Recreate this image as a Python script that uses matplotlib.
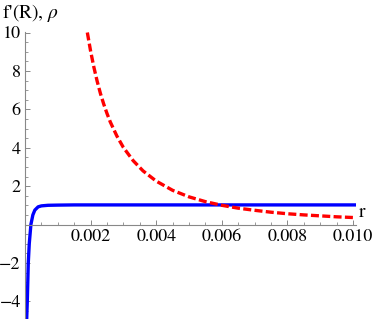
import matplotlib
matplotlib.use("Agg")
import matplotlib.pyplot as plt
from matplotlib.ticker import MultipleLocator, FixedLocator

plt.rcParams['font.family'] = ['STIXGeneral', 'Liberation Serif', 'DejaVu Serif']
plt.rcParams['mathtext.fontset'] = 'stix'

# blue curve f'(R)
r_blue = [0.00005, 0.00007, 0.0001, 0.00013, 0.00018, 0.00024, 0.0003, 0.0004,
          0.0005, 0.0007, 0.001, 0.0015, 0.002, 0.004, 0.006, 0.008, 0.0101]
f_blue = [-5.0, -4.0, -2.0, -1.0, 0.0, 0.5, 0.75, 0.92, 0.97, 1.0, 1.01,
          1.02, 1.02, 1.02, 1.02, 1.02, 1.02]

# red dashed curve rho
r_red = [0.0019, 0.002, 0.0021, 0.0022, 0.0023, 0.0024, 0.0025, 0.0026, 0.0028,
         0.003, 0.0033, 0.0036, 0.004, 0.0045, 0.005, 0.0055, 0.006, 0.0065,
         0.007, 0.0075, 0.008, 0.0085, 0.009, 0.0095, 0.01005]
rho_red = [10.0, 9.03, 8.19, 7.46, 6.82, 6.27, 5.78, 5.34, 4.61, 4.01, 3.32,
           2.79, 2.26, 1.78, 1.44, 1.19, 1.0, 0.85, 0.74, 0.64, 0.56, 0.50,
           0.45, 0.40, 0.36]

x_ticks = [0.002, 0.004, 0.006, 0.008, 0.010]
x_tick_labels = ["0.002", "0.004", "0.006", "0.008", "0.010"]
y_ticks = [-4, -2, 2, 4, 6, 8, 10]
y_tick_labels = ["\u22124", "\u22122", "2", "4", "6", "8", "10"]

W, H = 374, 319
fig = plt.figure(figsize=(W / 100, H / 100), dpi=100)
x0, x1 = 0.0, 0.01009
y0, y1 = -4.95, 10.02
left, right = 25, 356
zero_px, ppu = 224.5, 19.2
top = zero_px - y1 * ppu
bottom = zero_px - y0 * ppu
ax = fig.add_axes([left / W, 1 - bottom / H, (right - left) / W, (bottom - top) / H])

ax.plot(r_blue, f_blue, color=(0, 0, 1), lw=2.4, solid_capstyle='butt')
ax.plot(r_red, rho_red, color=(1, 0, 0), lw=2.4, dashes=(2.4, 1.0))

ax.set_xlim(x0, x1)
ax.set_ylim(y0, y1)

gray = '#888888'
for s in ['top', 'right']:
    ax.spines[s].set_visible(False)
ax.spines['left'].set_position(('data', 0))
ax.spines['bottom'].set_position(('data', 0))
for s in ['left', 'bottom']:
    ax.spines[s].set_color(gray)
    ax.spines[s].set_linewidth(0.8)

ax.xaxis.set_major_locator(FixedLocator(x_ticks))
ax.set_xticklabels(x_tick_labels)
ax.xaxis.set_minor_locator(MultipleLocator(0.0005))
ax.yaxis.set_major_locator(FixedLocator(y_ticks))
ax.set_yticklabels(y_tick_labels)
ax.yaxis.set_minor_locator(MultipleLocator(0.5))

ax.tick_params(which='major', direction='in', length=3.5, width=0.7, color=gray,
               labelsize=13, pad=3)
ax.tick_params(which='minor', direction='in', length=2.0, width=0.6, color=gray)
ax.patch.set_alpha(0)

fig.text(362 / W, 1 - 212 / H, "r", fontsize=14, ha='center', va='center')
fig.text(2 / W, 1 - 13 / H, r"f'(R), $\rho$", fontsize=14, ha='left', va='center')

fig.savefig("out.png", dpi=100)
